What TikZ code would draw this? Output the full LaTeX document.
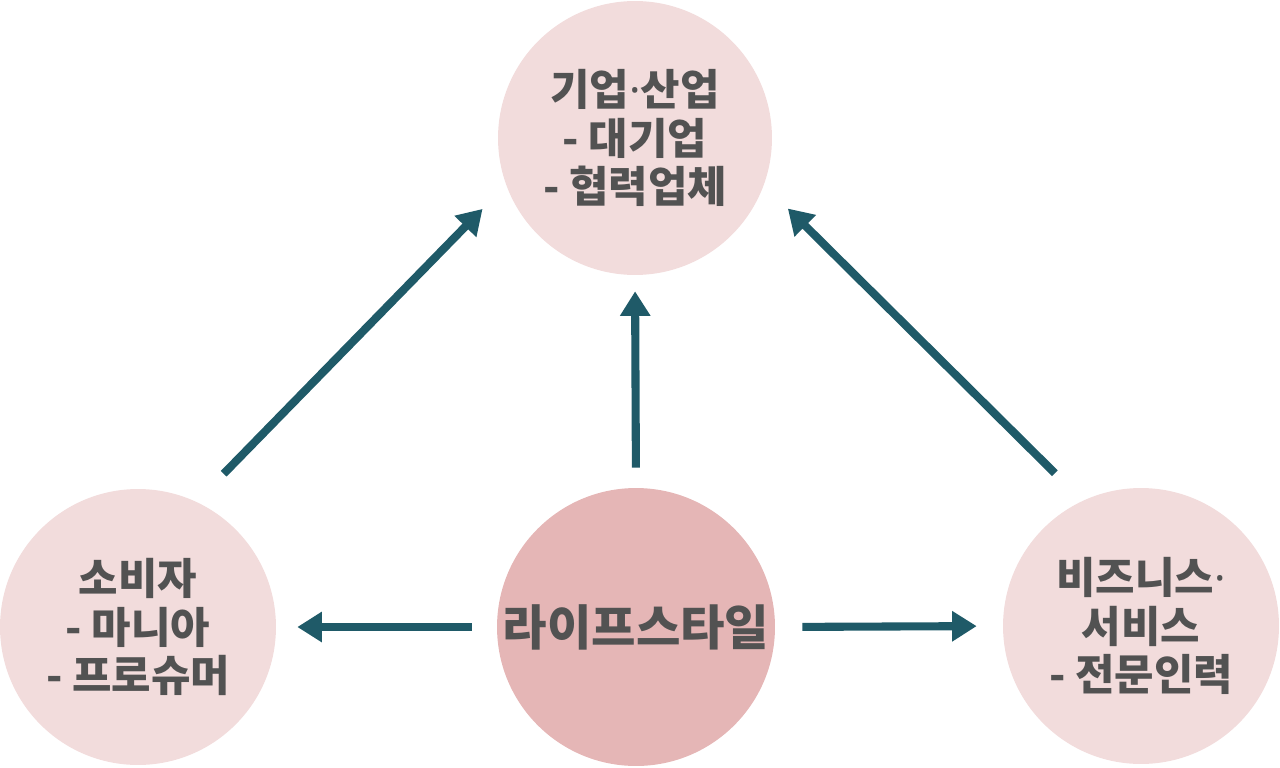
\documentclass[tikz,border=0pt]{standalone}
\usepackage{fontspec}
\newfontfamily\kor{Noto Sans CJK KR}
\newfontfamily\latin{Noto Sans}
\newcommand{\middot}{{\latin\bfseries ·}}
\usetikzlibrary{positioning, arrows.meta}

\definecolor{circlepink}{HTML}{F2DCDC}
\definecolor{corepink}{HTML}{E5B6B6}
\definecolor{arrowteal}{HTML}{1F5A68}
\definecolor{textgray}{HTML}{525252}

\begin{document}
\begin{tikzpicture}[x=0.02cm, y=-0.02cm,
    bubble/.style={circle, fill=circlepink, minimum size=5.52cm, inner sep=0pt,
        text=textgray, align=center,
        font=\kor\bfseries\fontsize{24.4}{27.8}\selectfont},
    flow/.style={-{Triangle[length=14pt, width=16.5pt]}, line width=4.6pt, arrowteal}]

    \useasboundingbox (0,0) rectangle (1280,767);

    % Circles
    \node[bubble, minimum size=5.48cm] (industry) at (635,138) {기업\middot 산업\\- 대기업\\- 협력업체};
    \node[bubble] (consumer) at (138,627) {소비자\\- 마니아\\- 프로슈머};
    \node[bubble, fill=corepink, minimum size=5.56cm,
        font=\kor\bfseries\fontsize{27.5}{30}\selectfont] (lifestyle) at (636,627) {라이프스타일};
    \node[bubble] (business) at (1141,626) {비즈니스\middot\\서비스\\- 전문인력};

    % Arrows out of the centre
    \draw[flow, shorten <=0.5cm, shorten >=0.42cm] (lifestyle.west) -- (consumer.east);
    \draw[flow, shorten <=0.54cm, shorten >=0.52cm] (lifestyle.east) -- (business.west);
    \draw[flow, shorten <=0.4cm, shorten >=0.32cm] (lifestyle.north) -- (industry.south);

    % Diagonal arrows up to the top
    \draw[flow, shorten <=0.78cm, shorten >=0.67cm] (consumer.65) -- (industry.200);
    \draw[flow, shorten <=0.78cm, shorten >=0.67cm] (business.115) -- (industry.340);

\end{tikzpicture}
\end{document}
